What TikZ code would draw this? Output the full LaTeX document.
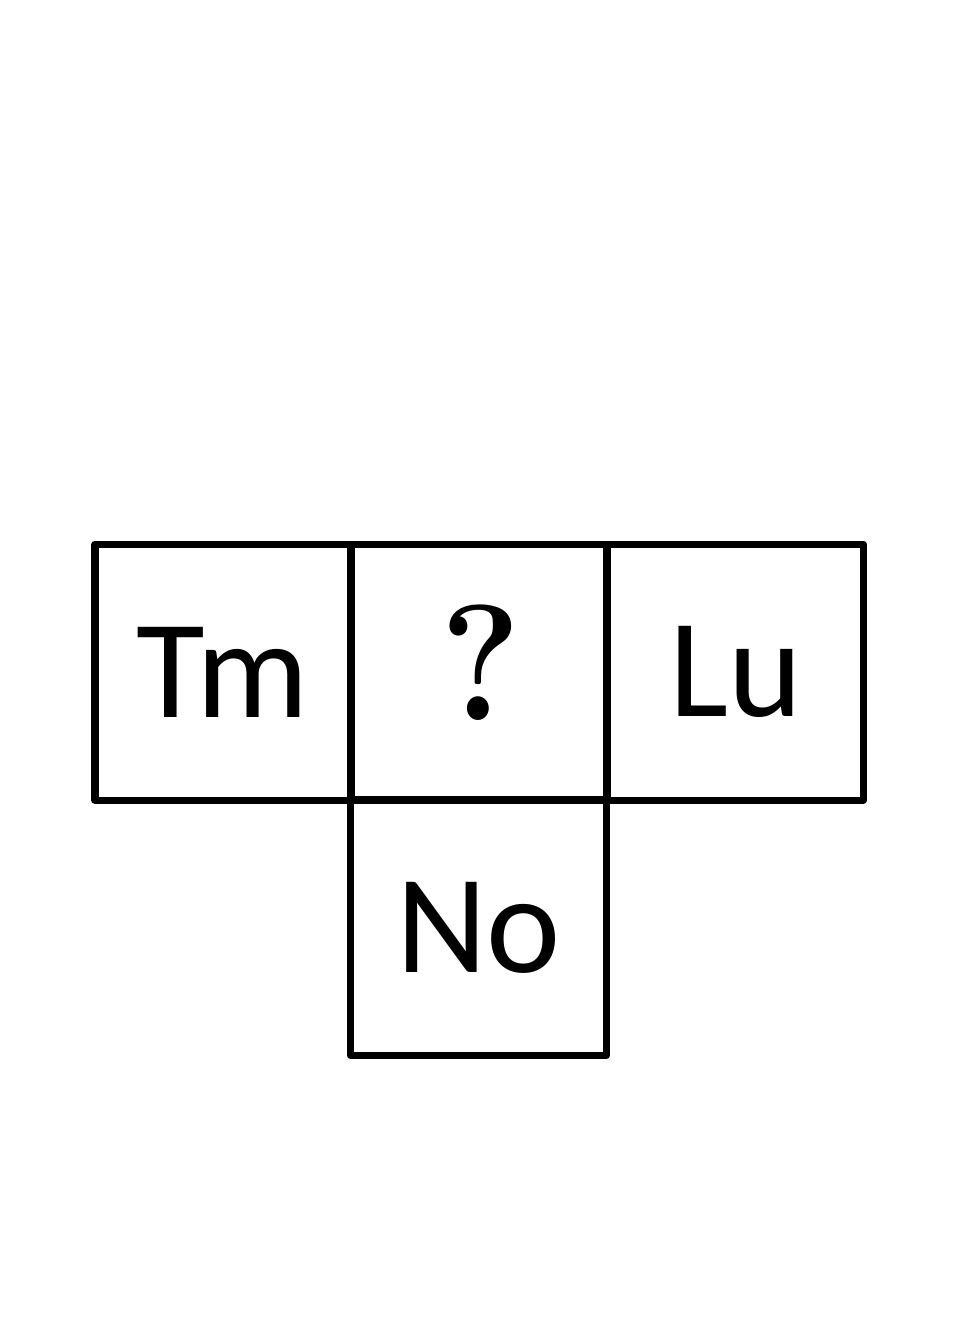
\documentclass[tikz,border=0pt]{standalone}
\usepackage{fontspec}
\newfontfamily\cellfont{Carlito}
\usetikzlibrary{positioning}

\begin{document}
\begin{tikzpicture}[
    cellbox/.style={draw=black, line width=2pt, line join=round,
      minimum width=2.56cm, minimum height=2.56cm, inner sep=0pt},
    celltext/.style={font=\cellfont\fontsize{40}{44}\selectfont}]
  \useasboundingbox (0,0) rectangle (9.6,-13.44);
  \node[cellbox, celltext] (tm) at (2.23,-6.72) {Tm};
  \node[cellbox, font=\bfseries\fontsize{47}{52}\selectfont] (mid) at (4.785,-6.72)
    {\hspace{0.04cm}\raisebox{0.18cm}{\scalebox{0.92}[1]{?}}};
  \node[cellbox, celltext] (lu) at (7.355,-6.72) {Lu};
  \node[cellbox, celltext] (no) at (4.785,-9.275) {No};
\end{tikzpicture}
\end{document}
